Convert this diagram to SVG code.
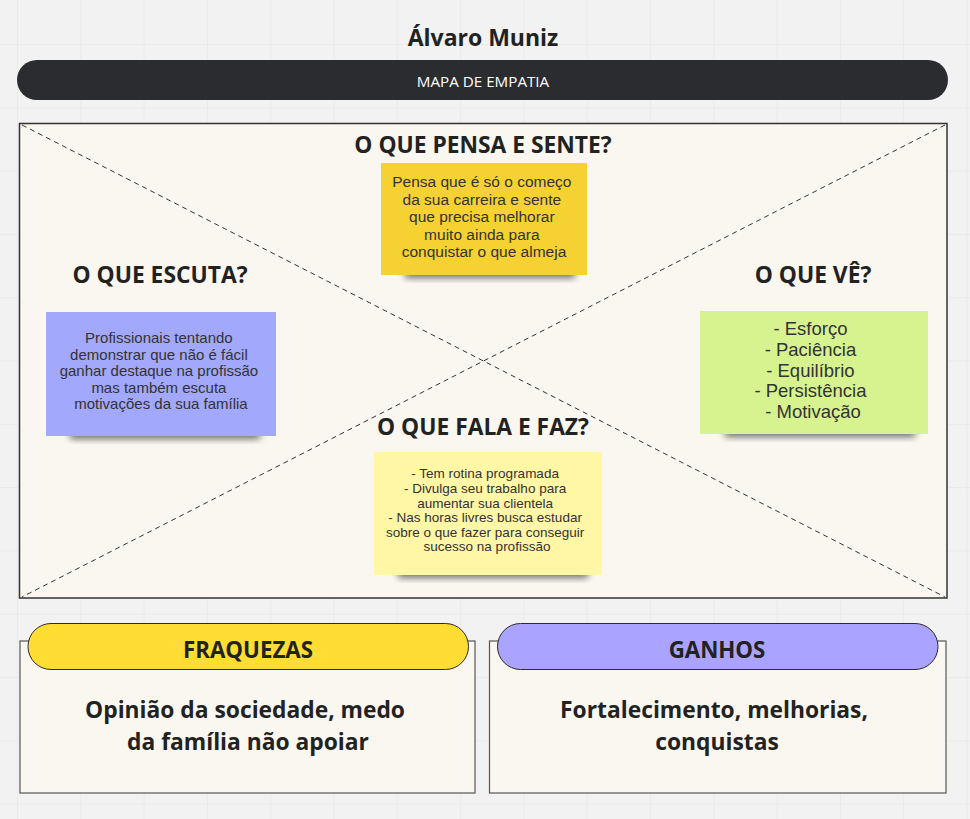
<svg xmlns="http://www.w3.org/2000/svg" width="970" height="819" viewBox="0 0 970 819">
  <defs>
    <pattern id="grid" patternUnits="userSpaceOnUse" x="17" y="44" width="63.3" height="63.3">
      <path d="M0 0 H63.3 M0 0 V63.3" fill="none" stroke="#e4e4e4" stroke-width="1"/>
    </pattern>
    <filter id="shadow" x="-20%" y="-50%" width="140%" height="200%">
      <feGaussianBlur stdDeviation="3.5"/>
    </filter>
    <style>
      .head { font-family: "Open Sans", "Noto Sans", sans-serif; font-weight: 700; fill: #222; text-anchor: middle; }
      .note { font-family: "Liberation Sans", Arial, sans-serif; fill: #333; text-anchor: middle; }
      .card { fill: #faf7f0; stroke: #555; stroke-width: 1.2; }
      .pill { stroke: #2b2b2b; stroke-width: 1; }
      .diag { stroke: #333; stroke-width: 1; stroke-dasharray: 5 4; fill: none; }
      .shd { fill: #000; opacity: 0.55; filter: url(#shadow); }
    </style>
  </defs>

  <rect x="0" y="0" width="970" height="819" fill="#f2f2f2"/>
  <rect x="0" y="0" width="970" height="819" fill="url(#grid)"/>

  <g id="title">
    <text class="head" x="483" y="46" font-size="23" font-weight="600">Álvaro Muniz</text>
  </g>

  <g id="banner">
    <rect x="17" y="60" width="931" height="40" rx="20" fill="#2b2c30"/>
    <text x="483" y="87" font-family="'Open Sans', 'Noto Sans', sans-serif" font-size="15.2" fill="#ffffff" text-anchor="middle">MAPA DE EMPATIA</text>
  </g>

  <g id="map">
    <rect x="19.5" y="123.5" width="927.5" height="474.5" fill="#faf7f0" stroke="#333" stroke-width="1.5"/>
  </g>

  <g id="connectors">
    <line class="diag" x1="22" y1="125" x2="945" y2="597"/>
    <line class="diag" x1="945" y1="125" x2="22" y2="597"/>
  </g>

  <g id="heading-pensa">
    <text class="head" x="483" y="153" font-size="22.8">O QUE PENSA E SENTE?</text>
  </g>
  <g id="heading-escuta">
    <text class="head" x="160" y="283" font-size="22.8">O QUE ESCUTA?</text>
  </g>
  <g id="heading-ve">
    <text class="head" x="813" y="283" font-size="22.8">O QUE VÊ?</text>
  </g>
  <g id="heading-fala">
    <text class="head" x="483" y="435" font-size="22.8">O QUE FALA E FAZ?</text>
  </g>

  <g id="note-pensa">
    <rect class="shd" x="405" y="268" width="170" height="10"/>
    <rect x="381" y="163" width="206" height="112" fill="#f5d232"/>
    <text class="note" font-size="15.5">
      <tspan x="484" y="187">Pensa que é só o começo</tspan>
      <tspan x="484" y="204.5">da sua carreira e sente</tspan>
      <tspan x="484" y="222">que precisa melhorar</tspan>
      <tspan x="484" y="239.5">muito ainda para</tspan>
      <tspan x="484" y="257">conquistar o que almeja</tspan>
    </text>
  </g>

  <g id="note-escuta">
    <rect class="shd" x="70" y="429" width="190" height="10"/>
    <rect x="46" y="312" width="230" height="124" fill="#a2a8fb"/>
    <text class="note" font-size="15">
      <tspan x="161" y="343">Profissionais tentando</tspan>
      <tspan x="161" y="359.5">demonstrar que não é fácil</tspan>
      <tspan x="161" y="376">ganhar destaque na profissão</tspan>
      <tspan x="161" y="392.5">mas também escuta</tspan>
      <tspan x="161" y="409">motivações da sua família</tspan>
    </text>
  </g>

  <g id="note-ve">
    <rect class="shd" x="725" y="427" width="190" height="10"/>
    <rect x="700" y="311" width="228" height="123" fill="#d6f38f"/>
    <text class="note" font-size="18.5">
      <tspan x="813" y="335">- Esforço</tspan>
      <tspan x="813" y="356">- Paciência</tspan>
      <tspan x="813" y="376.5">- Equilíbrio</tspan>
      <tspan x="813" y="397">- Persistência</tspan>
      <tspan x="813" y="418">- Motivação</tspan>
    </text>
  </g>

  <g id="note-fala">
    <rect class="shd" x="398" y="568" width="190" height="10"/>
    <rect x="374" y="452" width="228" height="123" fill="#fff6a6"/>
    <text class="note" font-size="13.5">
      <tspan x="487" y="478">- Tem rotina programada</tspan>
      <tspan x="487" y="493">- Divulga seu trabalho para</tspan>
      <tspan x="487" y="507.5">aumentar sua clientela</tspan>
      <tspan x="487" y="522">- Nas horas livres busca estudar</tspan>
      <tspan x="487" y="536.5">sobre o que fazer para conseguir</tspan>
      <tspan x="487" y="551">sucesso na profissão</tspan>
    </text>
  </g>

  <g id="card-fraquezas">
    <rect class="card" x="20" y="641" width="455" height="152"/>
    <rect class="pill" x="28" y="623.5" width="440.5" height="46" rx="23" fill="#ffdd33"/>
    <text class="head" x="248" y="658" font-size="22.3">FRAQUEZAS</text>
    <text class="head" font-size="22.8">
      <tspan x="248" y="718">Opinião da sociedade, medo</tspan>
      <tspan x="248" y="750">da família não apoiar</tspan>
    </text>
  </g>

  <g id="card-ganhos">
    <rect class="card" x="489.5" y="641" width="456.5" height="152"/>
    <rect class="pill" x="497.5" y="623.5" width="440.5" height="46" rx="23" fill="#aaa3ff"/>
    <text class="head" x="717" y="658" font-size="22.3">GANHOS</text>
    <text class="head" font-size="22.8">
      <tspan x="717" y="718">Fortalecimento, melhorias,</tspan>
      <tspan x="717" y="750">conquistas</tspan>
    </text>
  </g>
</svg>
